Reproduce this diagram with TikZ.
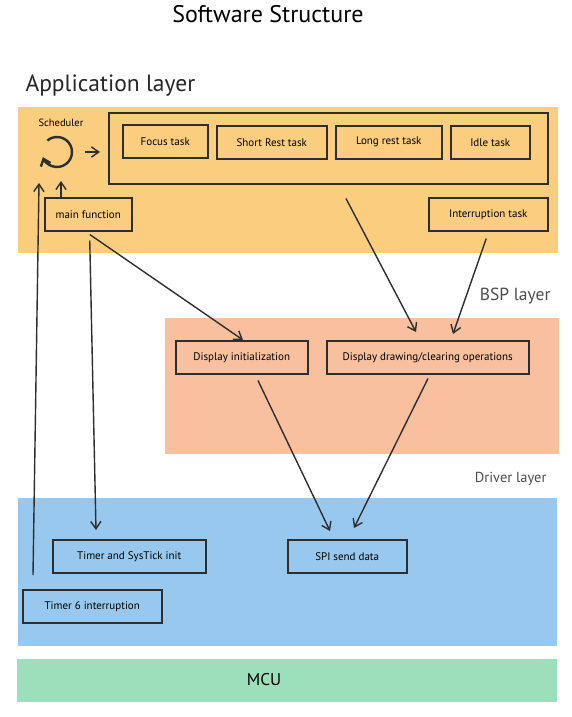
\documentclass[tikz,border=0pt]{standalone}
\usepackage{fontspec}
\setmainfont{PT Sans}
\usetikzlibrary{arrows.meta,positioning,calc}
\definecolor{appfill}{HTML}{FBCD7E}
\definecolor{bspfill}{HTML}{F8C09F}
\definecolor{drvfill}{HTML}{99C8EE}
\definecolor{mcufill}{HTML}{9DDFBA}
\definecolor{ink}{HTML}{2E2E2E}

\begin{document}
\begin{tikzpicture}[
  x=1pt, y=-1pt,
  band/.style={anchor=north west,inner sep=0pt,outer sep=0pt},
  box/.style={draw=ink,line width=1.5pt,anchor=north west,inner sep=0pt,minimum height=33pt,font=\fontsize{11}{13}\selectfont},
  lbl/.style={font=\fontsize{17.5}{20}\selectfont,text=black!70},
  link/.style={->,draw=ink,line width=1.4pt},
  >={Straight Barb[length=2.6mm,width=3.6mm]}]
  \useasboundingbox (0,0) rectangle (572,717);
  % layer bands
  \node[band,fill=appfill,minimum width=540pt,minimum height=146pt] (app) at (18,107) {};
  \node[band,fill=bspfill,minimum width=394pt,minimum height=136pt] (bsp) at (165,318) {};
  \node[band,fill=drvfill,minimum width=539pt,minimum height=148pt] (drv) at (18,498) {};
  \node[band,fill=mcufill,minimum width=540pt,minimum height=43pt] (mcu) at (17,659) {};
  % titles
  \node[font=\fontsize{24}{28}\selectfont] (title) at (268,14) {Software Structure};
  \node[font=\fontsize{23.5}{27}\selectfont,anchor=west,text=black!85] (applbl) at (22,86) {Application layer};
  \node[lbl,anchor=east] (bsplbl) at (554,296) {BSP layer};
  \node[lbl,anchor=east,font=\fontsize{14.5}{17}\selectfont] (drvlbl) at (550,479) {Driver layer};
  \node[font=\fontsize{17}{20}\selectfont] (mculbl) at (264,680) {MCU};
  % application layer
  \node[font=\fontsize{10.5}{12}\selectfont] (sched) at (61,123) {Scheduler};
  \coordinate (loop) at (57,152);
  \draw[ink,line width=2.4pt,-{Straight Barb[length=2.2mm,width=3.6mm]}] (loop) ++(-130:15) arc[start angle=-130,end angle=160,radius=15];
  \node[draw=ink,line width=1.5pt,anchor=north west,minimum width=439pt,minimum height=71pt] (tasks) at (108,112) {};
  \node[box,minimum width=85pt]  (focus) at (122,124) {Focus task};
  \node[box,minimum width=110pt] (short) at (216,125) {Short Rest task};
  \node[box,minimum width=106pt] (long)  at (335,125) {Long rest task};
  \node[box,minimum width=79pt]  (idle)  at (450,125) {Idle task};
  \node[box,minimum width=87pt]  (main)  at (44,197)  {main function};
  \node[box,minimum width=119pt] (inttask) at (428,197) {Interruption task};
  % bsp layer
  \node[box,minimum width=132pt] (dispinit) at (175,340) {Display initialization};
  \node[box,minimum width=202pt] (dispdraw) at (326,340) {Display drawing/clearing operations};
  % driver layer
  \node[box,minimum width=153pt] (systick) at (52,539)  {Timer and SysTick init};
  \node[box,minimum width=119pt] (spi)     at (287,539) {SPI send data};
  \node[box,minimum width=139pt] (t6)      at (22,589)  {Timer 6 interruption};
  % edges
  \coordinate (schedin) at (61,181);
  \coordinate (schedup) at (39,183);
  \draw[link] ($(loop)+(28,0)$) -- ($(loop -| tasks.west)+(-8,0)$);
  \draw[link] (main.north -| schedin) -- (schedin);
  \draw[link] ($(t6.north west)+(11,-14)$) -- (schedup);
  \draw[link] ($(main.south)+(1.5,9)$) -- ($(systick.north west)+(44,-9)$);
  \draw[link] ($(main.south)+(1.5,3)$) -- ($(dispinit.north west)+(68,0)$);
  \draw[link] ($(tasks.south west)+(238,14)$) -- ($(dispdraw.north west)+(90,-8)$);
  \draw[link] ($(inttask.south)+(-2,7)$) -- ($(dispdraw.north west)+(127,-6)$);
  \draw[link] ($(dispinit.south west)+(83,6)$) -- ($(spi.north west)+(43,-8)$);
  \draw[link] ($(dispdraw.south west)+(102,4)$) -- ($(spi.north west)+(67,-11)$);
\end{tikzpicture}
\end{document}
